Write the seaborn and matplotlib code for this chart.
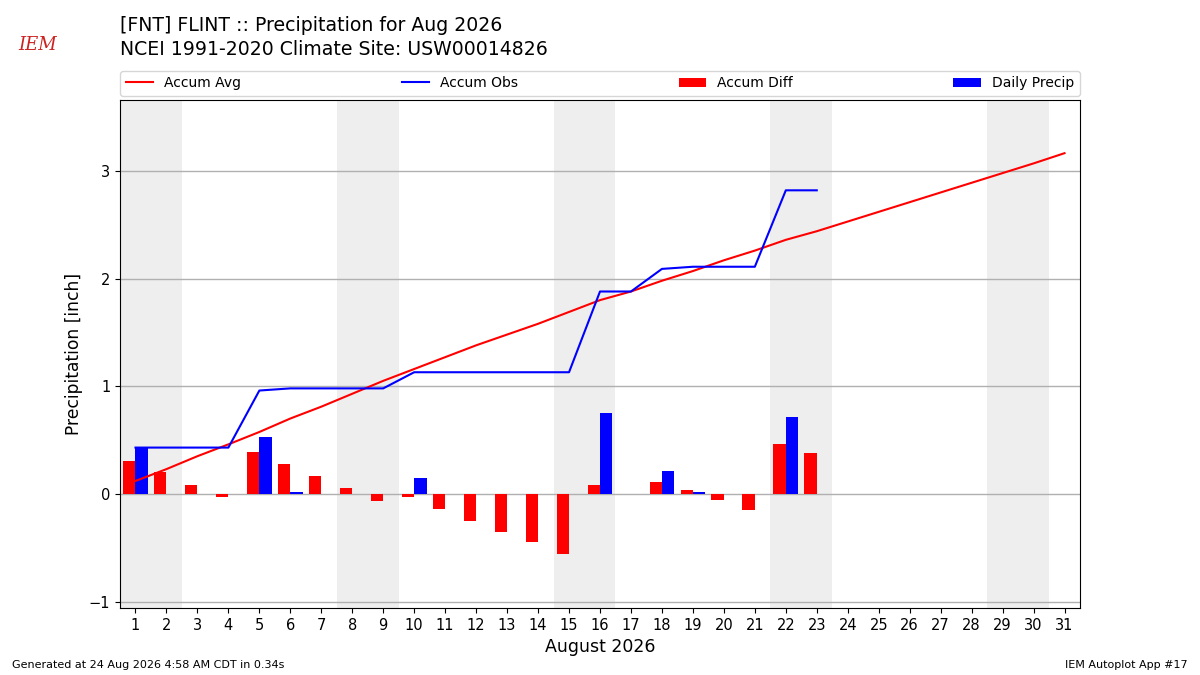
import numpy as np
import pandas as pd
import matplotlib
matplotlib.use("Agg")
import matplotlib.pyplot as plt
import seaborn as sns
from matplotlib.patches import Patch
from matplotlib.lines import Line2D

# ---- data ----
days = list(range(1, 32))
obs_days = list(range(1, 24))
daily_precip = [0.43, 0.00, 0.00, 0.00, 0.53, 0.02, 0.00, 0.00, 0.00, 0.15,
                0.00, 0.00, 0.00, 0.00, 0.00, 0.75, 0.00, 0.21, 0.02, 0.00,
                0.00, 0.71, 0.00]
accum_avg = [0.12, 0.23, 0.35, 0.46, 0.575, 0.70, 0.81, 0.93, 1.05, 1.16,
             1.27, 1.38, 1.48, 1.58, 1.69, 1.80, 1.88, 1.98, 2.07, 2.17,
             2.26, 2.36, 2.44, 2.53, 2.62, 2.71, 2.80, 2.89, 2.98, 3.07, 3.165]
weekend_starts = [1, 8, 15, 22, 29]
xticks = list(range(1, 32))
yticks = [-1, 0, 1, 2, 3]

accum_obs = np.cumsum(daily_precip)
accum_diff = accum_obs - np.array(accum_avg[:len(obs_days)])

bars = pd.DataFrame({
    "day": obs_days * 2,
    "value": list(accum_diff) + list(daily_precip),
    "kind": ["Accum Diff"] * len(obs_days) + ["Daily Precip"] * len(obs_days),
})

fig = plt.figure(figsize=(12, 6.75), dpi=100)
ax = fig.add_axes([0.1, 0.0993, 0.8, 0.7527])

for s in weekend_starts:
    ax.axvspan(s - 0.5, s + 1.5, color="#eeeeee", zorder=0, lw=0)

sns.barplot(data=bars, x="day", y="value", hue="kind", native_scale=True,
            dodge=True, width=0.8, saturation=1, linewidth=0,
            palette={"Accum Diff": "red", "Daily Precip": "blue"},
            legend=False, ax=ax, zorder=2)
sns.lineplot(x=days, y=accum_avg, color="red", lw=1.5, ax=ax, zorder=3)
sns.lineplot(x=obs_days, y=accum_obs, color="blue", lw=1.5, ax=ax, zorder=3)

ax.set_xlim(0.5, 31.5)
ax.set_ylim(-1.06, 3.66)
ax.set_xticks(xticks)
ax.set_xticklabels([str(d) for d in xticks], fontsize=10.5)
ax.set_yticks(yticks)
ax.tick_params(axis="y", labelsize=10.5)
ax.yaxis.grid(True, color="#b0b0b0", lw=1)
ax.set_axisbelow(True)
ax.set_xlabel("August 2026", fontsize=12.5)
ax.set_ylabel("Precipitation [inch]", fontsize=12.3)

handles = [Line2D([], [], color="red", lw=1.5),
           Line2D([], [], color="blue", lw=1.5),
           Patch(facecolor="red"), Patch(facecolor="blue")]
labels = ["Accum Avg", "Accum Obs", "Accum Diff", "Daily Precip"]
ax.legend(handles, labels, ncol=4, mode="expand", loc="lower left",
          bbox_to_anchor=(0, 1.008, 1, 0.05), borderaxespad=0, fontsize=10)

fig.text(0.1, 0.962, "[FNT] FLINT :: Precipitation for Aug 2026", fontsize=13.6,
         va="center", ha="left")
fig.text(0.1, 0.927, "NCEI 1991-2020 Climate Site: USW00014826", fontsize=13.6,
         va="center", ha="left")
fig.text(0.031, 0.933, "IEM", fontsize=13, color="#cc2222", family="DejaVu Serif",
         style="italic", ha="center", va="center")
fig.text(0.01, 0.015, "Generated at 24 Aug 2026 4:58 AM CDT in 0.34s", fontsize=8,
         ha="left", va="center")
fig.text(0.99, 0.015, "IEM Autoplot App #17", fontsize=8, ha="right", va="center")

fig.savefig("out.png", dpi=100)
